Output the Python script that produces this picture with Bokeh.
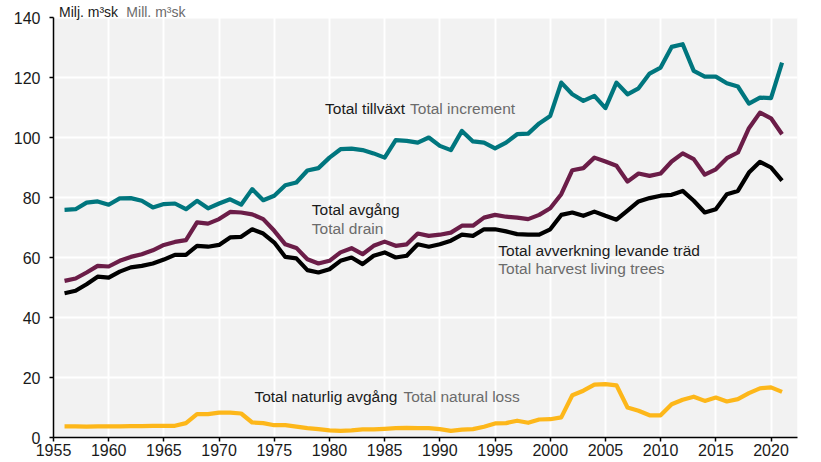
from bokeh.embed import file_html
from bokeh.models import Label, FixedTicker
from bokeh.plotting import figure
from bokeh.resources import INLINE

years = list(range(1956, 2022))

# Total tillväxt / Total increment
increment = [75.9, 76.1, 78.3, 78.7, 77.6, 79.7, 79.8, 78.9, 76.7, 77.8,
             78.0, 76.1, 78.9, 76.4, 78.0, 79.4, 77.6, 82.8, 79.1, 80.6,
             84.1, 85.0, 89.0, 89.8, 93.3, 96.1, 96.3, 95.8, 94.7, 93.3,
             99.1, 98.9, 98.3, 100.0, 97.2, 95.8, 102.2, 98.7, 98.3, 96.4,
             98.3, 101.1, 101.3, 104.7, 107.2, 118.3, 114.4, 112.2, 113.9, 109.8,
             118.3, 114.4, 116.4, 121.3, 123.3, 130.2, 131.1, 122.2, 120.3, 120.3,
             118.1, 117.0, 111.3, 113.3, 113.1, 125.0]

# Total avgång / Total drain
drain = [52.2, 53.0, 55.0, 57.2, 57.0, 58.9, 60.2, 61.1, 62.4, 64.2,
         65.2, 65.8, 71.7, 71.3, 72.8, 75.2, 75.0, 74.4, 72.8, 68.9,
         64.4, 63.2, 59.4, 58.0, 58.9, 61.7, 63.1, 61.1, 63.9, 65.3,
         63.9, 64.4, 68.0, 67.2, 67.6, 68.3, 70.6, 70.6, 73.3, 74.2,
         73.6, 73.3, 72.8, 74.2, 76.4, 81.1, 89.1, 89.8, 93.3, 92.0,
         90.6, 85.3, 88.0, 87.2, 88.0, 92.0, 94.7, 92.8, 87.6, 89.4,
         93.1, 95.0, 103.1, 108.3, 106.4, 101.1]

# Total avverkning levande träd / Total harvest living trees
harvest = [48.1, 48.9, 51.1, 53.6, 53.3, 55.3, 56.7, 57.2, 58.0, 59.3,
           60.9, 60.9, 63.9, 63.6, 64.2, 66.7, 66.9, 69.4, 68.0, 65.0,
           60.2, 59.7, 55.8, 55.0, 56.1, 58.9, 60.0, 57.8, 60.6, 61.7,
           60.0, 60.6, 64.4, 63.6, 64.4, 65.6, 67.6, 67.2, 69.4, 69.4,
           68.7, 67.8, 67.6, 67.6, 69.4, 74.2, 75.0, 73.9, 75.3, 73.9,
           72.6, 75.6, 78.7, 79.8, 80.6, 80.9, 82.2, 78.9, 75.0, 76.1,
           81.1, 82.2, 88.3, 91.9, 90.0, 85.6]

# Total naturlig avgång / Total natural loss
natural_loss = [3.7, 3.7, 3.6, 3.7, 3.7, 3.7, 3.8, 3.8, 3.9, 3.9,
                3.9, 4.8, 7.8, 7.8, 8.3, 8.3, 8.0, 5.0, 4.8, 4.1,
                4.1, 3.6, 3.1, 2.8, 2.4, 2.2, 2.4, 2.7, 2.7, 2.9,
                3.1, 3.2, 3.1, 3.1, 2.8, 2.2, 2.6, 2.8, 3.6, 4.7,
                4.8, 5.6, 4.9, 6.0, 6.1, 6.7, 14.1, 15.6, 17.6, 17.8,
                17.4, 10.0, 8.9, 7.4, 7.4, 11.1, 12.6, 13.6, 12.2, 13.3,
                12.0, 12.8, 14.8, 16.4, 16.7, 15.2]

x_ticks = list(range(1955, 2021, 5))
y_ticks = list(range(0, 141, 20))
x_lo, x_hi = 1955, 2022.4
y_lo, y_hi = 0, 140

FONT = "Liberation Sans"
GREY = "#6b6b6b"
DARK = "#1a1a1a"

# frame reaches the canvas top; the grey panel stops at 140, room above for the unit text
p = figure(width=821, height=462, x_range=(x_lo, x_hi), y_range=(y_lo, 145.67),
           output_backend="svg", toolbar_location=None,
           min_border_left=53, min_border_top=0, min_border_right=24,
           min_border_bottom=25)

p.background_fill_color = "white"
p.border_fill_color = "white"
p.outline_line_color = None

p.quad(left=[x_lo], right=[x_hi], bottom=[y_lo], top=[y_hi],
       fill_color="#f2f2f2", line_color=None, level="image")

p.grid.grid_line_color = "white"
p.grid.grid_line_width = 2
p.xgrid.ticker = FixedTicker(ticks=x_ticks)
p.ygrid.ticker = FixedTicker(ticks=y_ticks)
p.xgrid.bounds = (y_lo, y_hi)

for ax in (p.xaxis, p.yaxis):
    ax.axis_line_color = "black"
    ax.axis_line_width = 1.5
    ax.major_tick_line_color = "black"
    ax.major_tick_line_width = 1.5
    ax.major_tick_in = 0
    ax.major_tick_out = 4
    ax.minor_tick_line_color = None
    ax.major_label_text_font = FONT
    ax.major_label_text_font_size = "16px"
    ax.major_label_text_color = DARK
p.xaxis.ticker = FixedTicker(ticks=x_ticks)
p.yaxis.ticker = FixedTicker(ticks=y_ticks)
p.yaxis.bounds = (y_lo, y_hi)
p.yaxis.major_label_standoff = 9
p.xaxis.major_label_standoff = 2

p.line(years, increment, line_color="#00767e", line_width=4.2, line_join="round")
p.line(years, drain, line_color="#6b1d48", line_width=4.2, line_join="round")
p.line(years, harvest, line_color="black", line_width=4.2, line_join="round")
p.line(years, natural_loss, line_color="#fdb71a", line_width=4.2, line_join="round")

def label(x, y, text, color, size="15.5px", y_offset=0):
    p.add_layout(Label(x=x, y=y, y_offset=y_offset, text=text, text_color=color,
                       text_font=FONT, text_font_size=size, text_baseline="alphabetic"))

label(1979.6, 109.7, "Total tillväxt", DARK)
label(1987.3, 109.7, "Total increment", GREY)
label(1978.4, 76.0, "Total avgång", DARK)
label(1978.4, 69.7, "Total drain", GREY)
label(1995.3, 62.3, "Total avverkning levande träd", DARK)
label(1995.3, 56.4, "Total harvest living trees", GREY)
label(1973.2, 13.7, "Total naturlig avgång", DARK)
label(1986.7, 13.7, "Total natural loss", GREY)

# unit text above the grey panel
label(1955.5, y_hi, "Milj. m³sk", DARK, size="14px", y_offset=6)
label(1961.6, y_hi, "Mill. m³sk", GREY, size="14px", y_offset=6)

open("out.html", "w").write(file_html(p, INLINE))
